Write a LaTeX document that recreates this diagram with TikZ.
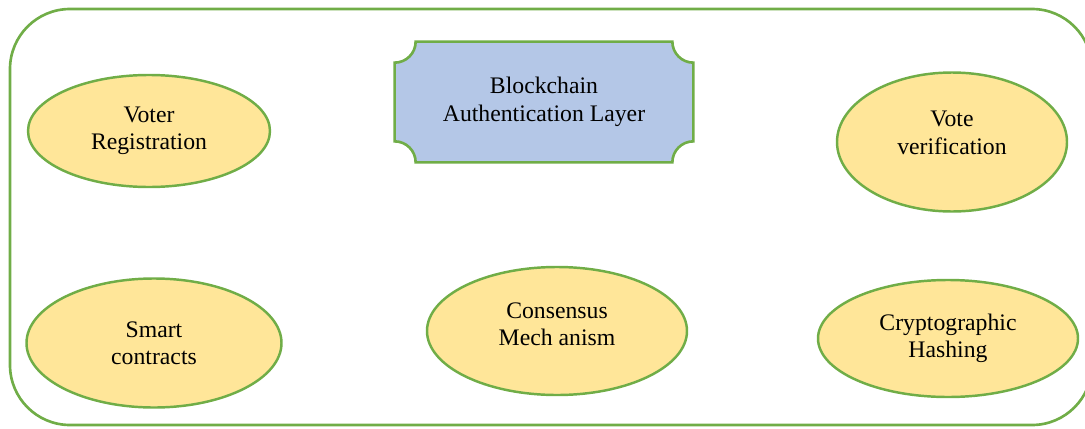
\documentclass[tikz,border=0pt]{standalone}
\usepackage{fontspec}
\setmainfont{Liberation Serif}
\usepackage{tikz}
\usetikzlibrary{shapes,shapes.geometric,calc,positioning,backgrounds}

\definecolor{fgreen}{HTML}{70AD47}
\definecolor{fyellow}{HTML}{FFE699}
\definecolor{fblue}{HTML}{B4C7E7}

\begin{document}
\begin{tikzpicture}[%
font=\fontsize{13.5}{15.6}\selectfont,
on grid,
part/.style={ellipse, draw=fgreen, fill=fyellow, line width=1.4pt, align=center, inner sep=0pt},
plaque/.style={draw=fgreen, fill=fblue, line width=1.5pt},
frame/.style={draw=fgreen, line width=1.5pt, rounded corners=1.2cm}
]
\clip (0,0) rectangle (21.7,8.56);
\draw[frame] (0.2,0.06) rectangle (21.84,8.38);

% top row
\node[part, minimum width=4.84cm, minimum height=2.24cm] (reg) at (2.98,5.94) {Voter\\Registration};
\node[align=center, minimum width=5.96cm, minimum height=2.4cm] (bal) at (10.88,6.52) {Blockchain\\Authentication Layer};
\node[part, minimum width=4.6cm, minimum height=2.78cm,
  label={[align=center, yshift=0.18cm]center:Vote\\verification}] (verif) at (19.04,5.72) {};

% bottom row
\node[part, minimum width=5.1cm, minimum height=2.58cm] (smart) [below right=4.24cm and 0.1cm of reg] {Smart\\contracts};
\node[part, minimum width=5.2cm, minimum height=2.56cm,
  label={[align=center, yshift=0.13cm]center:Consensus\\Mech anism}] (cons) at (11.14,1.94) {};
\node[part, minimum width=5.2cm, minimum height=2.34cm] (crypt) [below left=3.93cm and 0.08cm of verif] {Cryptographic\\Hashing};

% plaque behind the layer text, corners cut inwards
\def\r{0.42}
\begin{scope}[on background layer]
\draw[plaque] ($(bal.north west)+(\r,0)$) -- ($(bal.north east)+(-\r,0)$)
  arc[start angle=180, end angle=270, radius=\r] -- ($(bal.south east)+(0,\r)$)
  arc[start angle=90, end angle=180, radius=\r] -- ($(bal.south west)+(\r,0)$)
  arc[start angle=0, end angle=90, radius=\r] -- ($(bal.north west)+(0,-\r)$)
  arc[start angle=270, end angle=360, radius=\r] -- cycle;
\end{scope}
\end{tikzpicture}
\end{document}
